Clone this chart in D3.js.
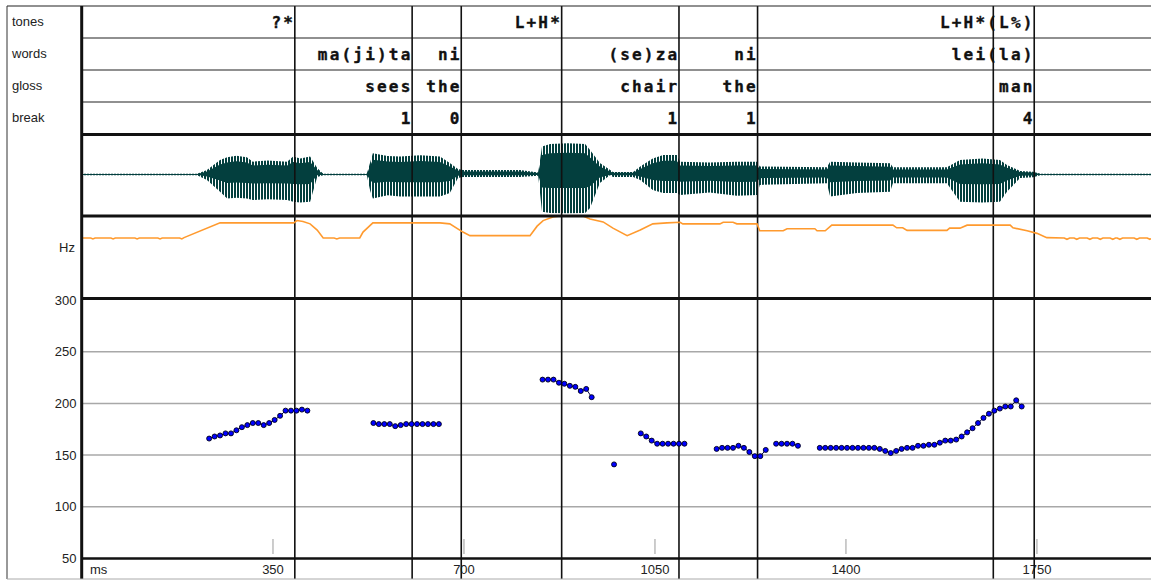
<!DOCTYPE html>
<html><head><meta charset="utf-8">
<script src="https://cdn.jsdelivr.net/npm/d3@7"></script>
<style>body{margin:0;background:#fff}svg{display:block}</style>
</head><body>
<svg id="c" width="1151" height="580"></svg>
<script>
// ---------------- data ----------------
const tierNames = ["tones", "words", "gloss", "break"];
const tonesMs = [390, 879, 1745];
const tonesLabels = ["?*", "L+H*", "L+H*(L%)"];
const wordsMs = [605, 695, 1094, 1238, 1745];
const wordsLabels = ["ma(ji)ta", "ni", "(se)za", "ni", "lei(la)"];
const glossMs = [605, 695, 1094, 1238, 1745];
const glossLabels = ["sees", "the", "chair", "the", "man"];
const breakMs = [605, 695, 1094, 1238, 1745];
const breakLabels = ["1", "0", "1", "1", "4"];
const boundaryMs = [390, 605, 695, 879, 1094, 1238, 1670, 1745];

const xTicks = [350, 700, 1050, 1400, 1750];
const yTickLabels = [50, 100, 150, 200, 250, 300];
const yGrid = [100, 150, 200, 250];

// F0 track (ms, Hz), separate voiced stretches
const f0Seg1Ms = [233,243,253,263,273,283,293,303,313,323,333,343,353,363,373,383,393,403,413];
const f0Seg1Hz = [166,168,169,171,171,174,177,179,181,181,179,181,184,188,193,193,193,194,193];
const f0Seg2Ms = [534,544,554,564,574,584,594,604,614,624,634,644,654];
const f0Seg2Hz = [181,180,180,180,178,179,180,180,180,180,180,180,180];
const f0Seg3Ms = [844,854,864,874,884,894,904,914,924,934];
const f0Seg3Hz = [223,223,223,220,219,217,216,212,214,206];
const f0Seg4Ms = [975];
const f0Seg4Hz = [141];
const f0Seg5Ms = [1024,1034,1044,1054,1064,1074,1084,1094,1104];
const f0Seg5Hz = [171,168,164,161,161,161,161,161,161];
const f0Seg6Ms = [1163,1173,1183,1193,1203,1213,1223,1233,1243,1253];
const f0Seg6Hz = [156,157,157,157,159,157,153,149,149,155];
const f0Seg7Ms = [1272,1282,1292,1302,1312];
const f0Seg7Hz = [161,161,161,161,159];
const f0Seg8Ms = [1352,1362,1372,1382,1392,1402,1412,1422,1432,1442,1452,1462,1472,1482,1492,1502,1512,1522,1532,1542,1552,1562,1572,1582,1592,1602,1612,1622,1632,1642,1652,1662,1672,1682,1692,1702,1712,1722];
const f0Seg8Hz = [157,157,157,157,157,157,157,157,157,157,157,156,154,152,154,156,157,157,159,159,160,160,162,164,164,165,168,172,176,181,186,190,193,195,197,197,203,197];

// stylised pitch contour (ms, Hz)
const contourPoints = [
[0,50],[0,230],[16,230],[20,227],[24,230],[53,230],[57,227],[61,230],[97,230],[101,227],[105,230],
[139,230],[143,227],[147,230],[179,230],[183,227],[187,231],[253,276],[388,276],[394,283],[405,280],
[418,273],[431,254],[442,230],[462,230],[467,227],[472,230],[509,230],[515,248],[533,276],[656,276],
[674,273],[698,248],[711,237],[821,237],[834,266],[845,283],[863,294],[876,297],[918,297],[931,288],
[955,279],[973,260],[999,237],[1023,254],[1046,273],[1072,276],[1096,278],[1101,273],[1169,273],
[1175,278],[1193,278],[1200,273],[1237,273],[1242,252],[1285,252],[1292,258],[1343,258],[1347,252],
[1362,252],[1374,269],[1486,269],[1493,261],[1504,261],[1512,253],[1585,253],[1590,260],[1609,260],
[1622,269],[1701,269],[1706,261],[1732,252],[1750,244],[1768,231],[1800,230],[1805,226],[1810,230],
[1818,230],[1823,226],[1828,230],[1842,230],[1847,226],[1852,230],[1861,230],[1866,226],[1871,230],
[1884,230],[1889,226],[1894,230],[1897,230],[1902,226],[1907,230],[1928,230],[1933,226],[1938,230],
[1952,230],[1957,226],[1959,228]
];

// waveform envelope (ms, upper amplitude, lower amplitude), relative units
const waveEnvelope = [
[0,.02,-.02],[211,.02,-.02],[229,.11,-.14],[253,.36,-.43],[266,.43,-.6],[283,.47,-.58],[302,.43,-.6],[313,.32,-.64],
[340,.35,-.62],[376,.32,-.64],[387,.45,-.68],[400,.4,-.7],[418,.45,-.68],[431,.16,-.06],[442,.02,-.02],[522,.02,-.02],[528,.3,-.4],
[533,.53,-.6],[560,.46,-.52],[583,.45,-.55],[620,.48,-.55],[656,.45,-.55],[674,.29,-.46],[689,.14,-.09],[698,.11,-.06],[803,.11,-.06],
[836,.05,-.03],[843,.7,-.93],[858,.76,-.96],[890,.78,-.97],[922,.76,-.96],[931,.61,-.84],[949,.29,-.21],[968,.11,-.01],
[973,.06,-.06],[1010,.06,-.06],[1023,.2,-.14],[1046,.4,-.39],[1065,.49,-.46],[1090,.49,-.46],
[1096,.32,-.51],[1150,.3,-.45],[1200,.32,-.53],[1237,.32,-.51],[1242,.2,-.26],[1365,.18,-.22],[1371,.32,-.55],[1420,.3,-.46],[1481,.28,-.43],
[1486,.18,-.22],[1585,.18,-.22],[1609,.36,-.68],[1650,.4,-.7],[1682,.36,-.68],[1695,.24,-.43],[1719,.09,-.09],
[1743,.07,-.07],[1756,.02,-.02],[1959,.02,-.02]
];

// ---------------- drawing ----------------
const svg = d3.select("#c");
const x = d3.scaleLinear().domain([0, 1959]).range([82, 1151]);
const y = d3.scaleLinear().domain([50, 300]).range([558.5, 300]);
const yc = d3.scaleLinear().domain([50, 300]).range([297, 215]);
const yw = d3.scaleLinear().domain([-1, 1]).range([214.5, 134.5]);

const sans = "'Liberation Sans', Arial, sans-serif";
const mono = "'DejaVu Sans Mono', monospace";
const rowTops = [6, 38, 70, 102];
const tiers = [[tonesMs, tonesLabels], [wordsMs, wordsLabels], [glossMs, glossLabels], [breakMs, breakLabels]];

svg.append("rect").attr("width", 1151).attr("height", 580).attr("fill", "#fff");

// grid lines
svg.append("g").selectAll("line").data(yGrid).join("line")
  .attr("x1", 82).attr("x2", 1151).attr("y1", d => y(d)).attr("y2", d => y(d))
  .attr("stroke", "#a8a8a8").attr("stroke-width", 1.5);

// x ticks
svg.append("g").selectAll("line").data(xTicks).join("line")
  .attr("x1", d => x(d)).attr("x2", d => x(d)).attr("y1", 539).attr("y2", 554)
  .attr("stroke", "#9a9a9a").attr("stroke-width", 1);
svg.append("g").selectAll("text").data(xTicks).join("text")
  .attr("x", d => x(d)).attr("y", 574).attr("text-anchor", "middle")
  .attr("font-family", sans).attr("font-size", 13).attr("fill", "#222").text(d => d);
svg.append("text").attr("x", 90).attr("y", 574).attr("font-family", sans)
  .attr("font-size", 13).attr("fill", "#222").text("ms");

// y labels
svg.append("g").selectAll("text").data(yTickLabels).join("text")
  .attr("x", 76.5).attr("y", d => Math.max(y(d), 298) + 4.5).attr("text-anchor", "end")
  .attr("font-family", sans).attr("font-size", 13).attr("fill", "#222").text(d => d);
svg.append("text").attr("x", 75).attr("y", 252).attr("text-anchor", "end")
  .attr("font-family", sans).attr("font-size", 13).attr("fill", "#222").text("Hz");

// tier names
svg.append("g").selectAll("text").data(tierNames).join("text")
  .attr("x", 12).attr("y", (d, i) => rowTops[i] + 20)
  .attr("font-family", sans).attr("font-size", 13).attr("fill", "#222").text(d => d);

// waveform
const defs = svg.append("defs");
const pat = defs.append("pattern").attr("id", "stripes").attr("patternUnits", "userSpaceOnUse")
  .attr("width", 3).attr("height", 10);
pat.append("rect").attr("width", 2).attr("height", 10).attr("fill", "#033f3e");
const waveCol = "#033f3e";
svg.append("line").attr("x1", 82).attr("x2", 1151).attr("y1", yw(0)).attr("y2", yw(0))
  .attr("stroke", "#1d5a5a").attr("stroke-width", 1.2);
svg.append("path").datum(waveEnvelope)
  .attr("d", d3.area().x(d => x(d[0])).y0(d => yw(d[2])).y1(d => yw(d[1])))
  .attr("fill", "url(#stripes)");
svg.append("path").datum(waveEnvelope)
  .attr("d", d3.area().x(d => x(d[0])).y0(d => yw(d[2] * 0.35)).y1(d => yw(d[1] * 0.7)))
  .attr("fill", waveCol);

// tier labels
tiers.forEach(([ms, labels], ti) => {
  svg.append("g").selectAll("text").data(ms).join("text")
    .attr("x", d => x(d) + 0.4).attr("y", rowTops[ti] + 22)
    .attr("text-anchor", "end")
    .attr("font-family", mono).attr("font-weight", "bold")
    .attr("font-size", 16).attr("letter-spacing", 2.2).attr("fill", "#111")
    .attr("stroke", "#111").attr("stroke-width", 0.35)
    .text((d, i) => labels[i]);
});

// tier row separators
svg.append("g").selectAll("line").data([38, 70, 102]).join("line")
  .attr("x1", 82).attr("x2", 1151).attr("y1", d => d).attr("y2", d => d)
  .attr("stroke", "#222").attr("stroke-width", 1.2);

// boundary lines
svg.append("g").selectAll("line").data(boundaryMs).join("line")
  .attr("x1", d => x(d)).attr("x2", d => x(d)).attr("y1", 6).attr("y2", 579)
  .attr("stroke", "#111").attr("stroke-width", 1.6);

// contour
svg.append("path").datum(contourPoints)
  .attr("d", d3.line().x(d => x(d[0])).y(d => yc(d[1])))
  .attr("fill", "none").attr("stroke", "#ff9a2e").attr("stroke-width", 1.6);

// F0 points
const segs = [[f0Seg1Ms, f0Seg1Hz], [f0Seg2Ms, f0Seg2Hz], [f0Seg3Ms, f0Seg3Hz], [f0Seg4Ms, f0Seg4Hz],
  [f0Seg5Ms, f0Seg5Hz], [f0Seg6Ms, f0Seg6Hz], [f0Seg7Ms, f0Seg7Hz], [f0Seg8Ms, f0Seg8Hz]];
const f0g = svg.append("g");
segs.forEach(([ms, hz]) => {
  const pts = ms.map((t, i) => [t, hz[i]]);
  f0g.append("path").datum(pts)
    .attr("d", d3.line().x(d => x(d[0])).y(d => y(d[1])))
    .attr("fill", "none").attr("stroke", "#000040").attr("stroke-width", 1);
  f0g.append("g").selectAll("circle").data(pts).join("circle")
    .attr("cx", d => x(d[0])).attr("cy", d => y(d[1])).attr("r", 2.5)
    .attr("fill", "#0000ff").attr("stroke", "#000018").attr("stroke-width", 0.9);
});

// frame
svg.append("line").attr("x1", 7).attr("x2", 1151).attr("y1", 6).attr("y2", 6)
  .attr("stroke", "#222").attr("stroke-width", 1.2);
svg.append("g").selectAll("line").data([134.5, 216, 298.5]).join("line")
  .attr("x1", 82).attr("x2", 1151).attr("y1", d => d).attr("y2", d => d)
  .attr("stroke", "#111").attr("stroke-width", 3);
svg.append("line").attr("x1", 82).attr("x2", 1151).attr("y1", 558.5).attr("y2", 558.5)
  .attr("stroke", "#111").attr("stroke-width", 2.5);
svg.append("line").attr("x1", 7).attr("x2", 7).attr("y1", 6).attr("y2", 579)
  .attr("stroke", "#333").attr("stroke-width", 1);
svg.append("line").attr("x1", 81.7).attr("x2", 81.7).attr("y1", 6).attr("y2", 579)
  .attr("stroke", "#111").attr("stroke-width", 3);
svg.append("line").attr("x1", 7).attr("x2", 1151).attr("y1", 579).attr("y2", 579)
  .attr("stroke", "#aaa").attr("stroke-width", 1);
</script>
</body></html>
